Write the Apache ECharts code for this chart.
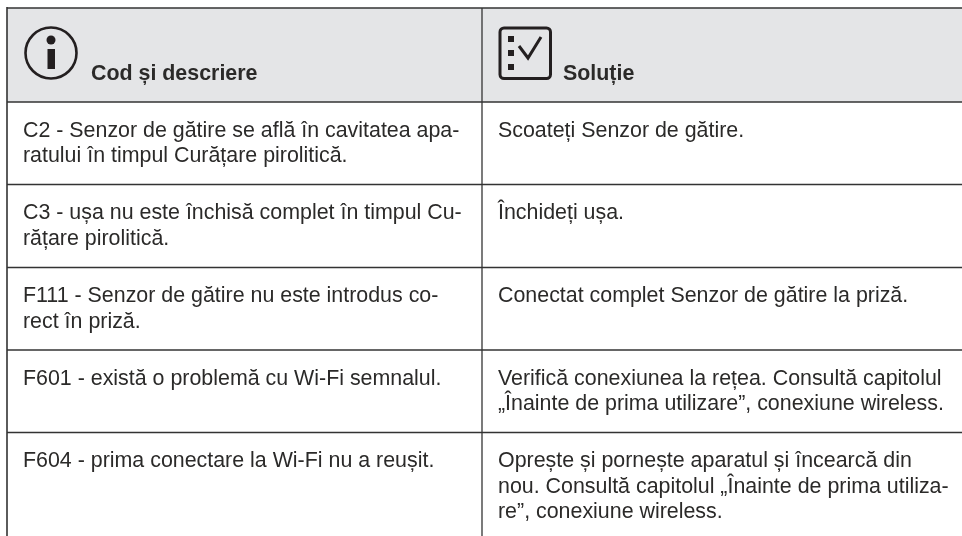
<!DOCTYPE html>
<html>
<head>
<meta charset="utf-8">
<title>Cod și descriere</title>
<script src="https://cdn.jsdelivr.net/npm/echarts@6/dist/echarts.min.js"></script>
<style>
  html, body { margin: 0; padding: 0; background: #fff; }
  #chart { width: 962px; height: 536px; }
</style>
</head>
<body>
<div id="chart"></div>
<script>
const headers = ['Cod și descriere', 'Soluție']
const codes = [
  ['C2 - Senzor de gătire se află în cavitatea apa-', 'ratului în timpul Curățare pirolitică.'],
  ['C3 - ușa nu este închisă complet în timpul Cu-', 'rățare pirolitică.'],
  ['F111 - Senzor de gătire nu este introdus co-', 'rect în priză.'],
  ['F601 - există o problemă cu Wi-Fi semnalul.'],
  ['F604 - prima conectare la Wi-Fi nu a reușit.']
]
const solutions = [
  ['Scoateți Senzor de gătire.'],
  ['Închideți ușa.'],
  ['Conectat complet Senzor de gătire la priză.'],
  ['Verifică conexiunea la rețea. Consultă capitolul', '„Înainte de prima utilizare”, conexiune wireless.'],
  ['Oprește și pornește aparatul și încearcă din', 'nou. Consultă capitolul „Înainte de prima utiliza-', 're”, conexiune wireless.']
]

// layout of the table
const tableLeft = 7, tableRight = 962, tableTop = 8, tableBottom = 536, divider = 482
const headerBottom = 102
const rowLines = [184.5, 267.5, 350, 432.5]
const lineColor = '#333333'
const font = '"Liberation Sans", Arial, sans-serif'
const rowStart = [headerBottom, ...rowLines]
const firstBaseline = 39.5, lineGap = 25.3

const line = (x1, y1, x2, y2, width = 1.6) => ({
  type: 'line',
  shape: { x1, y1, x2, y2 },
  style: { stroke: lineColor, lineWidth: width }
})

const text = (x, y, str, bold) => ({
  type: 'text',
  x, y,
  style: {
    text: str, fill: '#2b2a29',
    font: (bold ? 'bold ' : '') + '21.4px ' + font,
    verticalAlign: 'bottom'
  }
})

const elements = []
elements.push({ type: 'rect', shape: { x: tableLeft, y: tableTop, width: tableRight - tableLeft, height: headerBottom - tableTop }, style: { fill: '#e4e5e7' } })

// borders and grid lines
elements.push(line(tableLeft, tableTop, tableRight, tableTop))
elements.push(line(tableLeft, headerBottom, tableRight, headerBottom))
rowLines.forEach(y => elements.push(line(tableLeft, y, tableRight, y)))
elements.push(line(tableLeft, tableTop - 1, tableLeft, tableBottom))
elements.push(line(divider, tableTop, divider, tableBottom, 1.3))

// header icons
elements.push({ type: 'circle', shape: { cx: 51, cy: 53, r: 25.5 }, style: { fill: 'none', stroke: '#231f20', lineWidth: 2.6 } })
elements.push({ type: 'circle', shape: { cx: 51, cy: 40, r: 4.5 }, style: { fill: '#231f20' } })
elements.push({ type: 'rect', shape: { x: 47.5, y: 49, width: 7.5, height: 20 }, style: { fill: '#231f20' } })

elements.push({ type: 'rect', shape: { x: 500, y: 28, width: 50.5, height: 50.5, r: 4 }, style: { fill: 'none', stroke: '#231f20', lineWidth: 3 } })
;[39, 53, 67].forEach(y => elements.push({ type: 'rect', shape: { x: 508, y: y - 3, width: 6, height: 6 }, style: { fill: '#231f20' } }))
elements.push({ type: 'polyline', shape: { points: [[519, 46], [528, 58], [541, 37]] }, style: { fill: 'none', stroke: '#231f20', lineWidth: 3 } })

// header and body text
elements.push(text(91, 85, headers[0], true))
elements.push(text(563, 85, headers[1], true))
codes.forEach((lines, i) => lines.forEach((str, j) => {
  elements.push(text(23, rowStart[i] + firstBaseline + j * lineGap, str))
}))
solutions.forEach((lines, i) => lines.forEach((str, j) => {
  elements.push(text(498, rowStart[i] + firstBaseline + j * lineGap, str))
}))

const chart = echarts.init(document.getElementById('chart'))
chart.setOption({
  backgroundColor: '#fff',
  animation: false,
  graphic: { elements }
})
</script>
</body>
</html>
